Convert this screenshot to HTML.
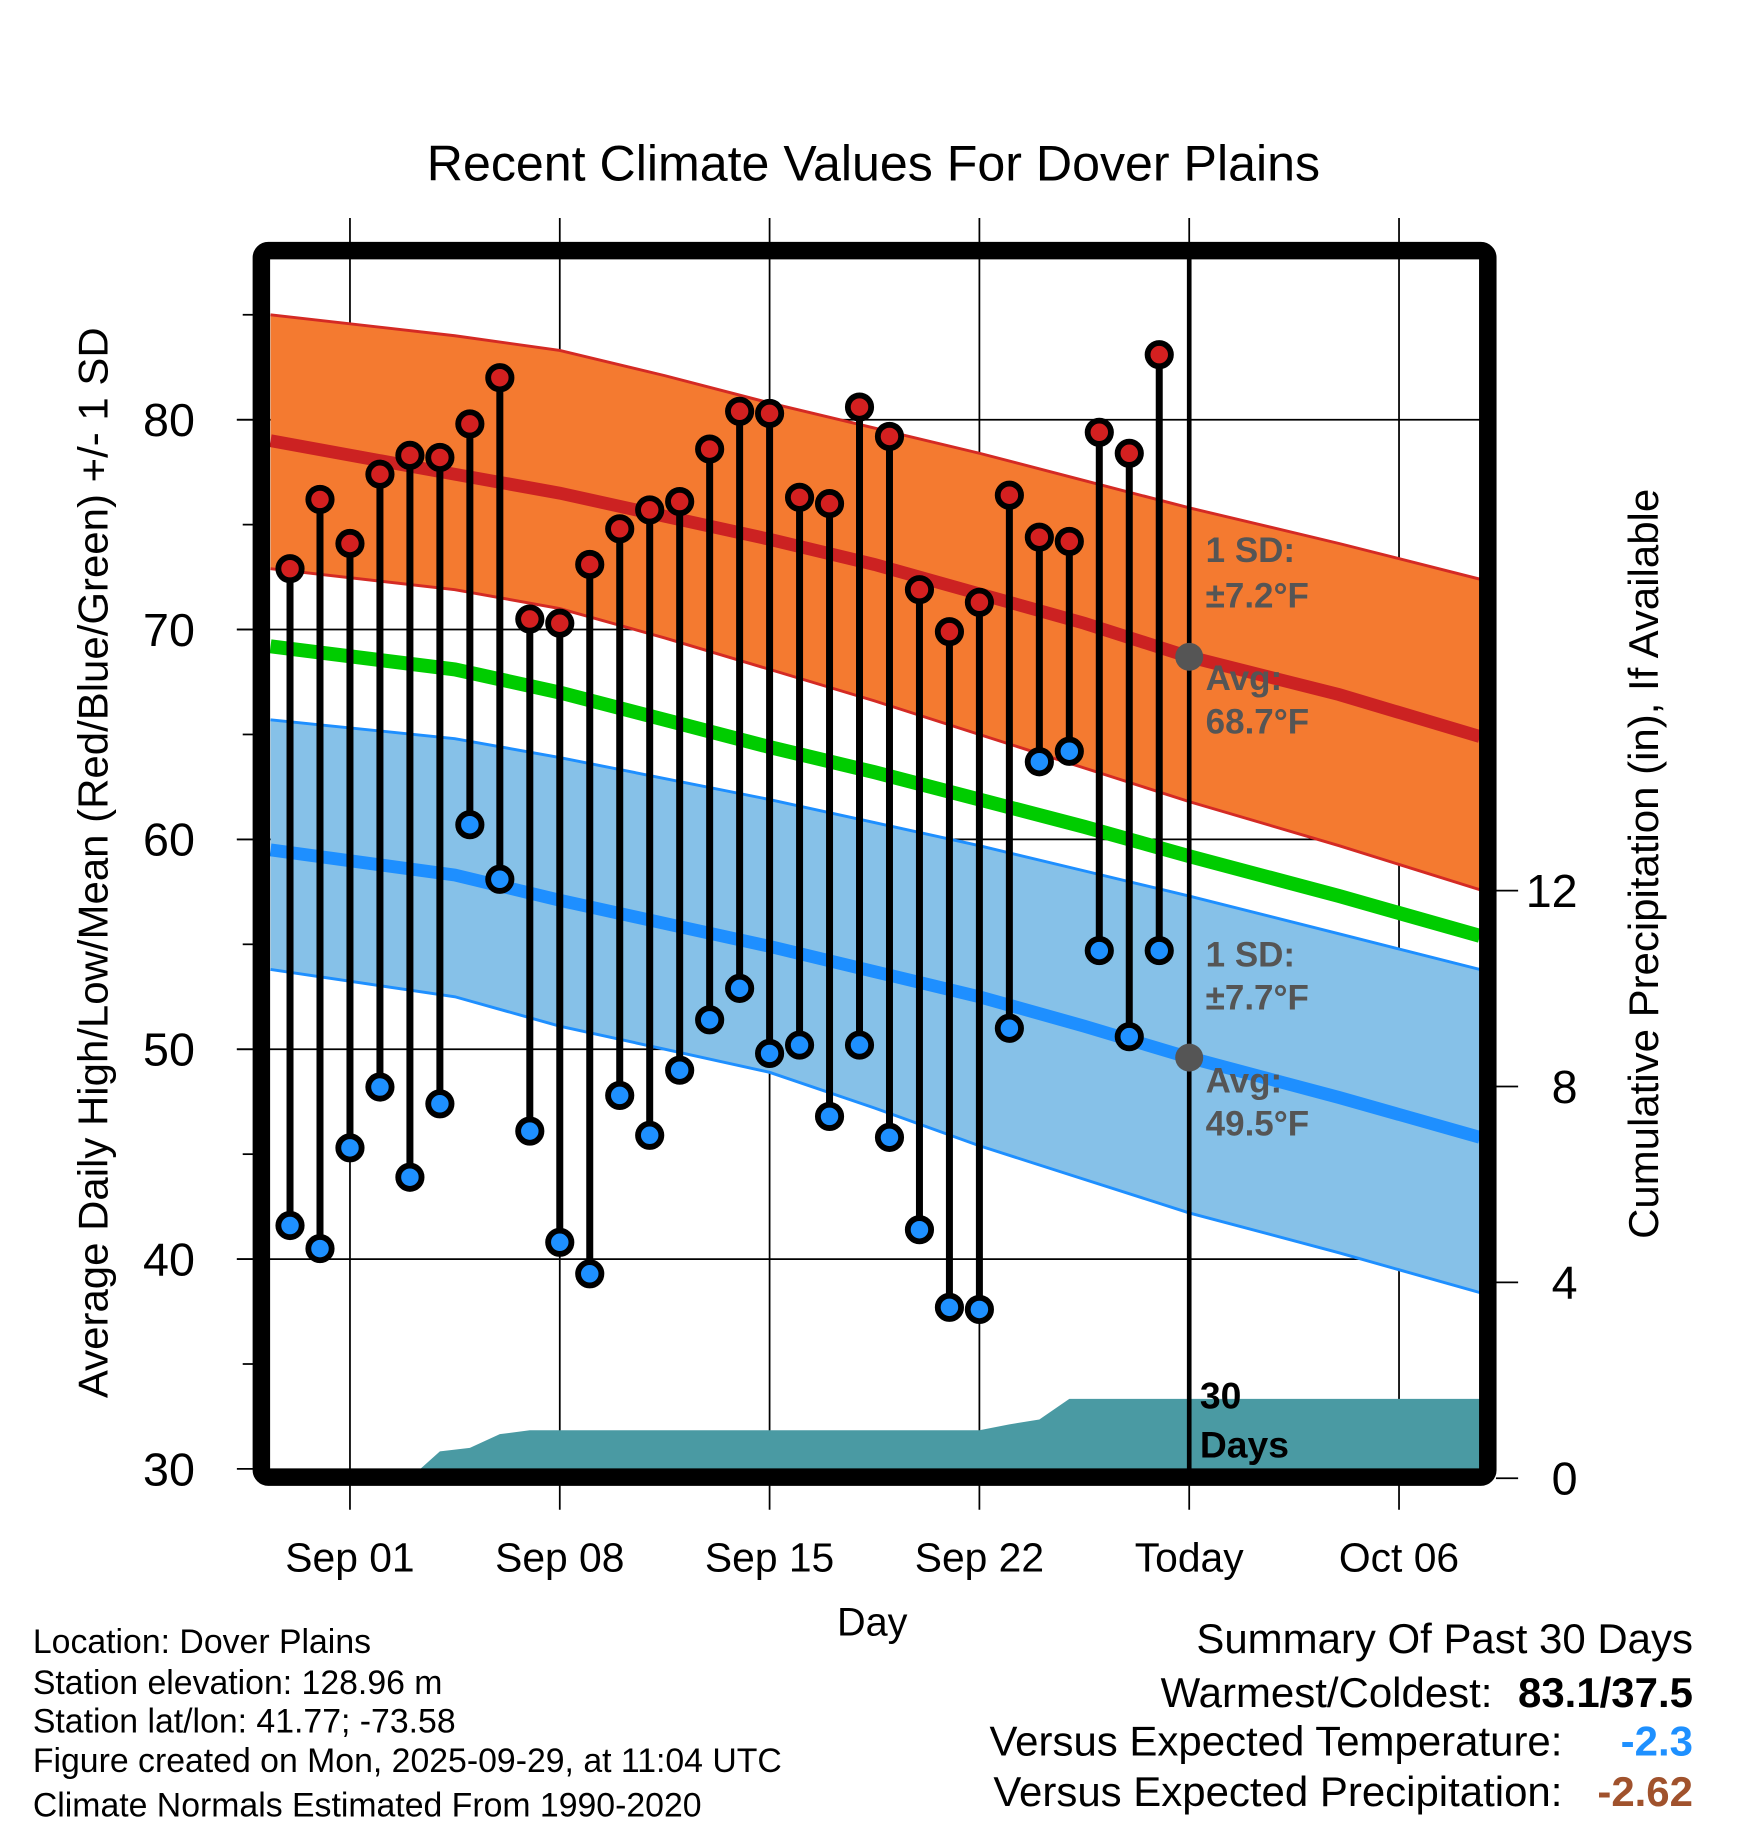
<!DOCTYPE html>
<html><head><meta charset="utf-8"><style>
html,body{margin:0;padding:0;background:#fff;}
svg{display:block;font-family:"Liberation Sans",Arial,sans-serif;}
</style></head><body>
<svg id="chart" width="1748" height="1828" viewBox="0 0 1499 1568" xmlns="http://www.w3.org/2000/svg">
<defs><clipPath id="plotclip"><rect x="231" y="222" width="1038" height="1039"/></clipPath></defs>
<text x="749" y="155" font-size="43" text-anchor="middle">Recent Climate Values For Dover Plains</text>
<g id="grid"></g>
<g id="bands" clip-path="url(#plotclip)"></g>
<g id="marks"></g>
<g id="axes"></g>
<rect x="224" y="215" width="1052" height="1052" rx="6" fill="none" stroke="#000" stroke-width="15"/>
<text transform="translate(92,740) rotate(-90)" font-size="36" text-anchor="middle">Average Daily High/Low/Mean (Red/Blue/Green) +/- 1 SD</text>
<text transform="translate(1422,741) rotate(-90)" font-size="36" text-anchor="middle">Cumulative Precipitation (in), If Available</text>
<text x="748" y="1403" font-size="34" text-anchor="middle">Day</text>
<g font-size="29">
<text x="28" y="1418">Location: Dover Plains</text>
<text x="28" y="1453">Station elevation: 128.96 m</text>
<text x="28" y="1486">Station lat/lon: 41.77; -73.58</text>
<text x="28" y="1520">Figure created on Mon, 2025-09-29, at 11:04 UTC</text>
<text x="28" y="1558">Climate Normals Estimated From 1990-2020</text>
</g>
<g font-size="36" text-anchor="end">
<text x="1452" y="1418">Summary Of Past 30 Days</text>
<text x="1280" y="1464">Warmest/Coldest:</text>
<text x="1452" y="1464" font-weight="bold">83.1/37.5</text>
<text x="1340" y="1506">Versus Expected Temperature:</text>
<text x="1452" y="1506" font-weight="bold" fill="#1e90ff">-2.3</text>
<text x="1340" y="1549">Versus Expected Precipitation:</text>
<text x="1452" y="1549" font-weight="bold" fill="#a0522d">-2.62</text>
</g>
</svg>
<script>
const days = [-2,-1,0,1,2,3,4,5,6,7,8,9,10,11,12,13,14,15,16,17,18,19,20,21,22,23,24,25,26,27];
const highs = [72.9,76.2,74.1,77.4,78.3,78.2,79.8,82.0,70.5,70.3,73.1,74.8,75.7,76.1,78.6,80.4,80.3,76.3,76.0,80.6,79.2,71.9,69.9,71.3,76.4,74.4,74.2,79.4,78.4,83.1];
const lows = [41.6,40.5,45.3,48.2,43.9,47.4,60.7,58.1,46.1,40.8,39.3,47.8,45.9,49.0,51.4,52.9,49.8,50.2,46.8,50.2,45.8,41.4,37.7,37.6,51.0,63.7,64.2,54.7,50.6,54.7];
const precip = [0,0,0,0,0,0.55,0.62,0.9,0.98,0.98,0.98,0.98,0.98,0.98,0.98,0.98,0.98,0.98,0.98,0.98,0.98,0.98,0.98,0.98,1.1,1.2,1.62,1.62,1.62,1.62];
const normDays = [-2.65,3.5,7,10.5,14,17.5,21,24.5,28,33,37.7];
const hiMean = [79.0,77.4,76.5,75.4,74.3,73.1,71.7,70.3,68.7,66.9,64.9];
const hiUpper = [85.0,84.0,83.3,82.1,80.8,79.6,78.4,77.1,75.8,74.1,72.4];
const hiLower = [72.9,71.9,71.0,69.6,68.1,66.6,65.0,63.4,61.8,59.7,57.6];
const meanLine = [69.2,68.1,67.0,65.7,64.4,63.2,61.9,60.6,59.2,57.3,55.4];
const loMean = [59.5,58.3,57.1,56.0,54.9,53.7,52.5,51.1,49.6,47.7,45.8];
const loUpper = [65.7,64.8,63.9,62.9,61.9,60.8,59.7,58.5,57.3,55.5,53.8];
const loLower = [53.8,52.5,51.1,50.0,48.9,47.2,45.4,43.8,42.2,40.3,38.4];
const yTicks = [30,40,50,60,70,80];
const y2Ticks = [0,4,8,12];
const xTickDays = [0,7,14,21,28,35];
const xTickLabels = ["Sep 01","Sep 08","Sep 15","Sep 22","Today","Oct 06"];

const NS="http://www.w3.org/2000/svg";
const X=d=>300+25.71*d;
const Y=t=>1260-(t-30)*18;
const Y2=p=>1268-p*42;
function mk(tag,attrs,parent){const e=document.createElementNS(NS,tag);for(const k in attrs)e.setAttribute(k,attrs[k]);parent.appendChild(e);return e;}
const grid=document.getElementById('grid'),bands=document.getElementById('bands'),marks=document.getElementById('marks'),axes=document.getElementById('axes');
yTicks.forEach(t=>{if(t===30)return;const l=mk('line',{x1:203,x2:1276,y1:Y(t),y2:Y(t),stroke:'#000','stroke-width':1.5},grid);

});
xTickDays.forEach(d=>{const l=mk('line',{x1:X(d),x2:X(d),y1:187,y2:1295,stroke:'#000','stroke-width':1.5},grid);

});
function poly(up,lo,fill,name){let pts=normDays.map((d,i)=>X(d)+','+Y(up[i]));pts=pts.concat(normDays.slice().reverse().map((d,i)=>X(d)+','+Y(lo[lo.length-1-i])));
const p=mk('polygon',{points:pts.join(' '),fill:fill},bands);

}
function line(arr,col,w,name){const p=mk('polyline',{points:normDays.map((d,i)=>X(d)+','+Y(arr[i])).join(' '),fill:'none',stroke:col,'stroke-width':w},bands);

}
poly(hiUpper,hiLower,'#f47a30','high-sd-band');
poly(loUpper,loLower,'#86c1e8','low-sd-band');
line(hiUpper,'#d42a24',2.5,'high-upper-line');line(hiLower,'#d42a24',2.5,'high-lower-line');
line(loUpper,'#1e8fff',2.5,'low-upper-line');line(loLower,'#1e8fff',2.5,'low-lower-line');
line(hiMean,'#cc2222',11,'high-mean-line');
line(meanLine,'#00cc00',12,'mean-line');
line(loMean,'#1e8fff',11,'low-mean-line');
let pp=[X(-2.65)+','+Y2(0)];days.forEach((d,i)=>pp.push(X(d)+','+Y2(precip[i])));pp.push(X(37.7)+','+Y2(precip[precip.length-1]));pp.push(X(37.7)+','+Y2(0));
const pa=mk('polygon',{points:pp.join(' '),fill:'#4a9aa3'},bands);


const tl=mk('line',{x1:X(28),x2:X(28),y1:222,y2:1262,stroke:'#000','stroke-width':4},marks);


days.forEach((d,i)=>{const s=mk('line',{x1:X(d),x2:X(d),y1:Y(highs[i]),y2:Y(lows[i]),stroke:'#000','stroke-width':6},marks);


const h=mk('circle',{cx:X(d),cy:Y(highs[i]),r:10,fill:'#d42020',stroke:'#000','stroke-width':5},marks);


const l=mk('circle',{cx:X(d),cy:Y(lows[i]),r:10,fill:'#1e90ff',stroke:'#000','stroke-width':5},marks);

});
[hiMean,loMean].forEach(a=>{const c=mk('circle',{cx:X(28),cy:Y(a[8]),r:12,fill:'#555'},marks);

});
const ann=[["1 SD:",482],["±7.2°F",521],["Avg:",592],["68.7°F",629],["1 SD:",829],["±7.7°F",866],["Avg:",937],["49.5°F",974]];
ann.forEach(a=>{const t=mk('text',{x:1034,y:a[1],'font-size':30,'font-weight':'bold',fill:'#555'},marks);t.textContent=a[0];

});
[["30",1208],["Days",1250]].forEach(a=>{const t=mk('text',{x:1029,y:a[1],'font-size':32,'font-weight':'bold',fill:'#000'},marks);t.textContent=a[0];

});
for(let t=30;t<=85;t+=5){const major=t%10===0;const l=mk('line',{x1:major?203:208,x2:217,y1:Y(t),y2:Y(t),stroke:'#000','stroke-width':1.5},axes);

}
yTicks.forEach(t=>{const e=mk('text',{x:167,y:Y(t)+14,'font-size':40,'text-anchor':'end'},axes);e.textContent=t;

});
y2Ticks.forEach(p=>{const l=mk('line',{x1:1283,x2:1302,y1:Y2(p),y2:Y2(p),stroke:'#000','stroke-width':1.5},axes);


const e=mk('text',{x:1353,y:Y2(p)+14,'font-size':40,'text-anchor':'end'},axes);e.textContent=p;

});
xTickDays.forEach((d,i)=>{const e=mk('text',{x:X(d),y:1348,'font-size':35,'text-anchor':'middle'},axes);e.textContent=xTickLabels[i];

});
</script>
</body></html>
